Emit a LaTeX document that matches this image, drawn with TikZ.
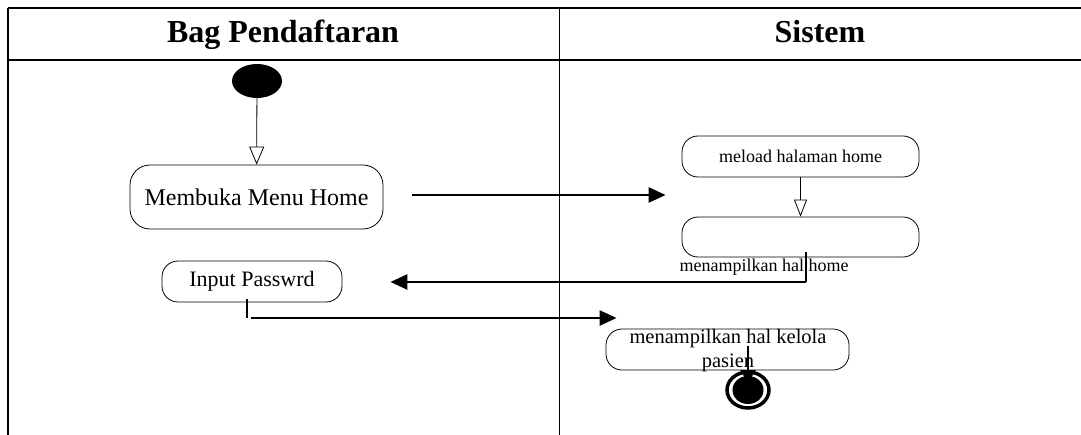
\documentclass[tikz,border=0pt]{standalone}
\usepackage{fontspec}
\setmainfont{Liberation Serif}
\usetikzlibrary{arrows.meta,shapes.geometric}

\begin{document}
\begin{tikzpicture}[x=1pt,y=-1pt,
  aktivitas/.style={draw=black,line width=0.8pt,rounded corners=16pt,inner sep=0pt},
  alur/.style={color=black,line width=0.8pt,-{Triangle[open,length=18pt,width=15pt,fill=white]}},
  kirim/.style={color=black,line width=2.4pt,-{Triangle[length=17pt,width=15pt]}},
  judul/.style={font=\fontsize{32}{36}\selectfont\bfseries,anchor=base,inner sep=0pt}]
\useasboundingbox (0,0) rectangle (1081,435);

% swimlane
\draw[color=black,line width=1.4pt] (8,8) -- (1081,8);
\draw[color=black,line width=1.4pt] (8,60) -- (1081,60);
\draw[color=black,line width=1.4pt] (8,8) -- (8,435);
\draw[color=black,line width=1pt] (559,8) -- (559,435);
\node[judul] (bag) at (283,43) {Bag Pendaftaran};
\node[judul] (sis) at (820,43) {Sistem};

% bag pendaftaran
\node[ellipse,fill=black,minimum width=50pt,minimum height=34pt,inner sep=0pt] (mulai) at (257,81) {};
\node[aktivitas,rounded corners=20pt,minimum width=253pt,minimum height=64pt,font=\fontsize{24}{28}\selectfont] (menu) at (256.5,197) {Membuka Menu Home};
\node[aktivitas,minimum width=180pt,minimum height=41pt,font=\fontsize{22}{26}\selectfont] (pass) at (252,281.5) {Input Passwrd};

% sistem
\node[aktivitas,minimum width=237pt,minimum height=41pt,font=\fontsize{18}{22}\selectfont] (home) at (800.5,156.5) {meload halaman home};
\node[aktivitas,minimum width=237pt,minimum height=40pt] (tampil) at (800.5,237) {};
\node[font=\fontsize{18}{22}\selectfont,inner sep=0pt] (lblhome) at (764,267) {menampilkan hal home};
\node[aktivitas,minimum width=243pt,minimum height=41pt] (kelola) at (727.5,349.5) {};
\node[font=\fontsize{20.5}{24}\selectfont,align=center,inner sep=0pt] (lblkelola) at (728,351) {menampilkan hal kelola\\pasien};
\node[ellipse,draw=black,line width=3.5pt,minimum width=42pt,minimum height=36pt,inner sep=0pt] (akhir) at (748,390) {};
\node[ellipse,fill=black,minimum width=31pt,minimum height=28pt,inner sep=0pt] (akhirisi) at (748,390) {};

% alur
\coordinate (t1) at (806,252);
\coordinate (t2) at (806,282);
\coordinate (t3) at (247,299);
\coordinate (t4) at (247,318);
\coordinate (t5) at (748,346);

\draw[alur] (mulai) -- (menu);
\draw[alur,-{Triangle[open,length=17pt,width=13pt,fill=white]}] (home) -- (tampil);
\draw[kirim,shorten <=29pt,shorten >=16pt] (menu.east |- 0,195) -- (home.west |- 0,195);
\draw[color=black,line width=1.6pt] (t1) -- (t2);
\draw[kirim,shorten >=48pt] (t2) -- (t2 -| pass.east);
\draw[color=black,line width=1.6pt] (t3) -- (t4);
\draw[kirim,shorten <=4pt,shorten >=-11pt] (t4) -- (t4 -| kelola.west);
\draw[color=black,line width=2pt,-{Triangle[length=13pt,width=15pt]},shorten >=7pt] (t5) -- (akhir.center);
\end{tikzpicture}
\end{document}
